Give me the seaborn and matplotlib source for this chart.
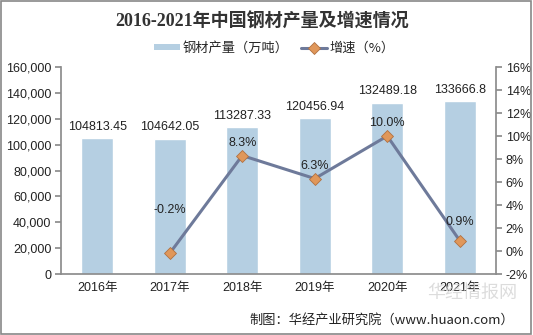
import numpy as np
import pandas as pd
import matplotlib
matplotlib.use("Agg")
import matplotlib.pyplot as plt
from matplotlib.patches import Patch, Rectangle
from matplotlib.lines import Line2D
from matplotlib.ticker import FuncFormatter, MultipleLocator
import seaborn as sns

years = ["2016年", "2017年", "2018年", "2019年", "2020年", "2021年"]
output = [104813.45, 104642.05, 113287.33, 120456.94, 132489.18, 133666.8]
output_labels = ["104813.45", "104642.05", "113287.33", "120456.94", "132489.18", "133666.8"]
growth = [None, -0.2, 8.3, 6.3, 10.0, 0.9]

sns.set_theme(style="white")
plt.rcParams["font.family"] = ["Liberation Sans", "Noto Sans CJK SC", "DejaVu Sans"]

bar_color = "#b5cfe2"
line_color = "#6e7a9a"
marker_color = "#e0975a"

fig = plt.figure(figsize=(5.33, 3.35), dpi=100)
ax = fig.add_axes([0.1144, 0.182, 0.8162, 0.618])

df = pd.DataFrame({"year": years, "output": output})
sns.barplot(data=df, x="year", y="output", color=bar_color, width=0.44,
            saturation=1, ax=ax)

ax.set_ylim(0, 160000)
ax.yaxis.set_major_locator(MultipleLocator(20000))
ax.yaxis.set_major_formatter(FuncFormatter(lambda v, p: f"{int(v):,}"))
ax.set_xlim(-0.5, len(years) - 0.5)
ax.set_xlabel("")
ax.set_ylabel("")

for i, (v, lab) in enumerate(zip(output, output_labels)):
    ax.annotate(lab, (i, v), xytext=(0, 4), textcoords="offset points",
                ha="center", va="bottom", fontsize=9, color="#222222")

ax2 = ax.twinx()
gx = [i for i, g in enumerate(growth) if g is not None]
gy = [g for g in growth if g is not None]
sns.lineplot(x=gx, y=gy, ax=ax2, color=line_color, linewidth=2.2,
             marker="D", markersize=6.5, markerfacecolor=marker_color,
             markeredgecolor="#b07040", markeredgewidth=0.6)
ax2.set_ylim(-2, 16)
ax2.yaxis.set_major_locator(MultipleLocator(2))
ax2.yaxis.set_major_formatter(FuncFormatter(lambda v, p: f"{int(round(v))}%"))
ax2.set_xlim(-0.5, len(years) - 0.5)

label_offsets = [27, 5, 5, 5, 9]
for x, y, off in zip(gx, gy, label_offsets):
    ax2.annotate(f"{y:.1f}%", (x, y), xytext=(0, off), textcoords="offset points",
                 ha="center", va="bottom", fontsize=9, color="#222222")

for a in (ax, ax2):
    for s in a.spines.values():
        s.set_visible(False)
    a.tick_params(labelsize=9, colors="#222222", length=0)
    a.grid(False)

# axis lines and outward tick marks
gray = "#8c8c8c"
ax.spines["left"].set_visible(True)
ax.spines["left"].set_color(gray)
ax.spines["bottom"].set_visible(True)
ax.spines["bottom"].set_color(gray)
ax2.spines["right"].set_visible(True)
ax2.spines["right"].set_color(gray)
ax.tick_params(axis="y", length=4, color=gray, direction="out", pad=3)
ax2.tick_params(axis="y", length=4, color=gray, direction="out", pad=3)
ax.tick_params(axis="x", length=0, pad=6)
ax.set_xticks(np.arange(-0.5, len(years)), minor=True)
ax.tick_params(axis="x", which="minor", length=4, color=gray, direction="out")

fig.text(0.492, 0.935, "2016-2021年中国钢材产量及增速情况", ha="center", va="center",
         fontsize=13, fontweight="bold", color="#333333",
         family=["Liberation Serif", "Noto Sans CJK SC", "DejaVu Sans"])

handles = [
    Patch(facecolor=bar_color, edgecolor="none", label="钢材产量（万吨）"),
    Line2D([0], [0], color=line_color, linewidth=2.2, marker="D", markersize=6,
           markerfacecolor=marker_color, markeredgecolor="#b07040",
           markeredgewidth=0.6, label="增速（%）"),
]
fig.legend(handles=handles, loc="center", bbox_to_anchor=(0.515, 0.855), ncol=2,
           frameon=False, handlelength=2.0, handleheight=0.35,
           columnspacing=0.9, handletextpad=0.2,
           prop={"family": ["Noto Sans CJK SC", "DejaVu Sans"], "size": 9.5})

fig.text(0.885, 0.125, "华经情报网", ha="center", va="center", fontsize=13,
         color="#d4d4d4", alpha=0.8, family=["Noto Sans CJK SC", "DejaVu Sans"])

fig.text(0.965, 0.045, "制图：华经产业研究院（www.huaon.com）", ha="right", va="center",
         fontsize=9.5, color="#222222", family=["Noto Sans CJK SC", "DejaVu Sans"])

fig.patches.append(Rectangle((0.002, 0.003), 0.995, 0.994, transform=fig.transFigure,
                             fill=False, edgecolor="#888888", linewidth=1.2))

fig.savefig("out.png", dpi=100)
